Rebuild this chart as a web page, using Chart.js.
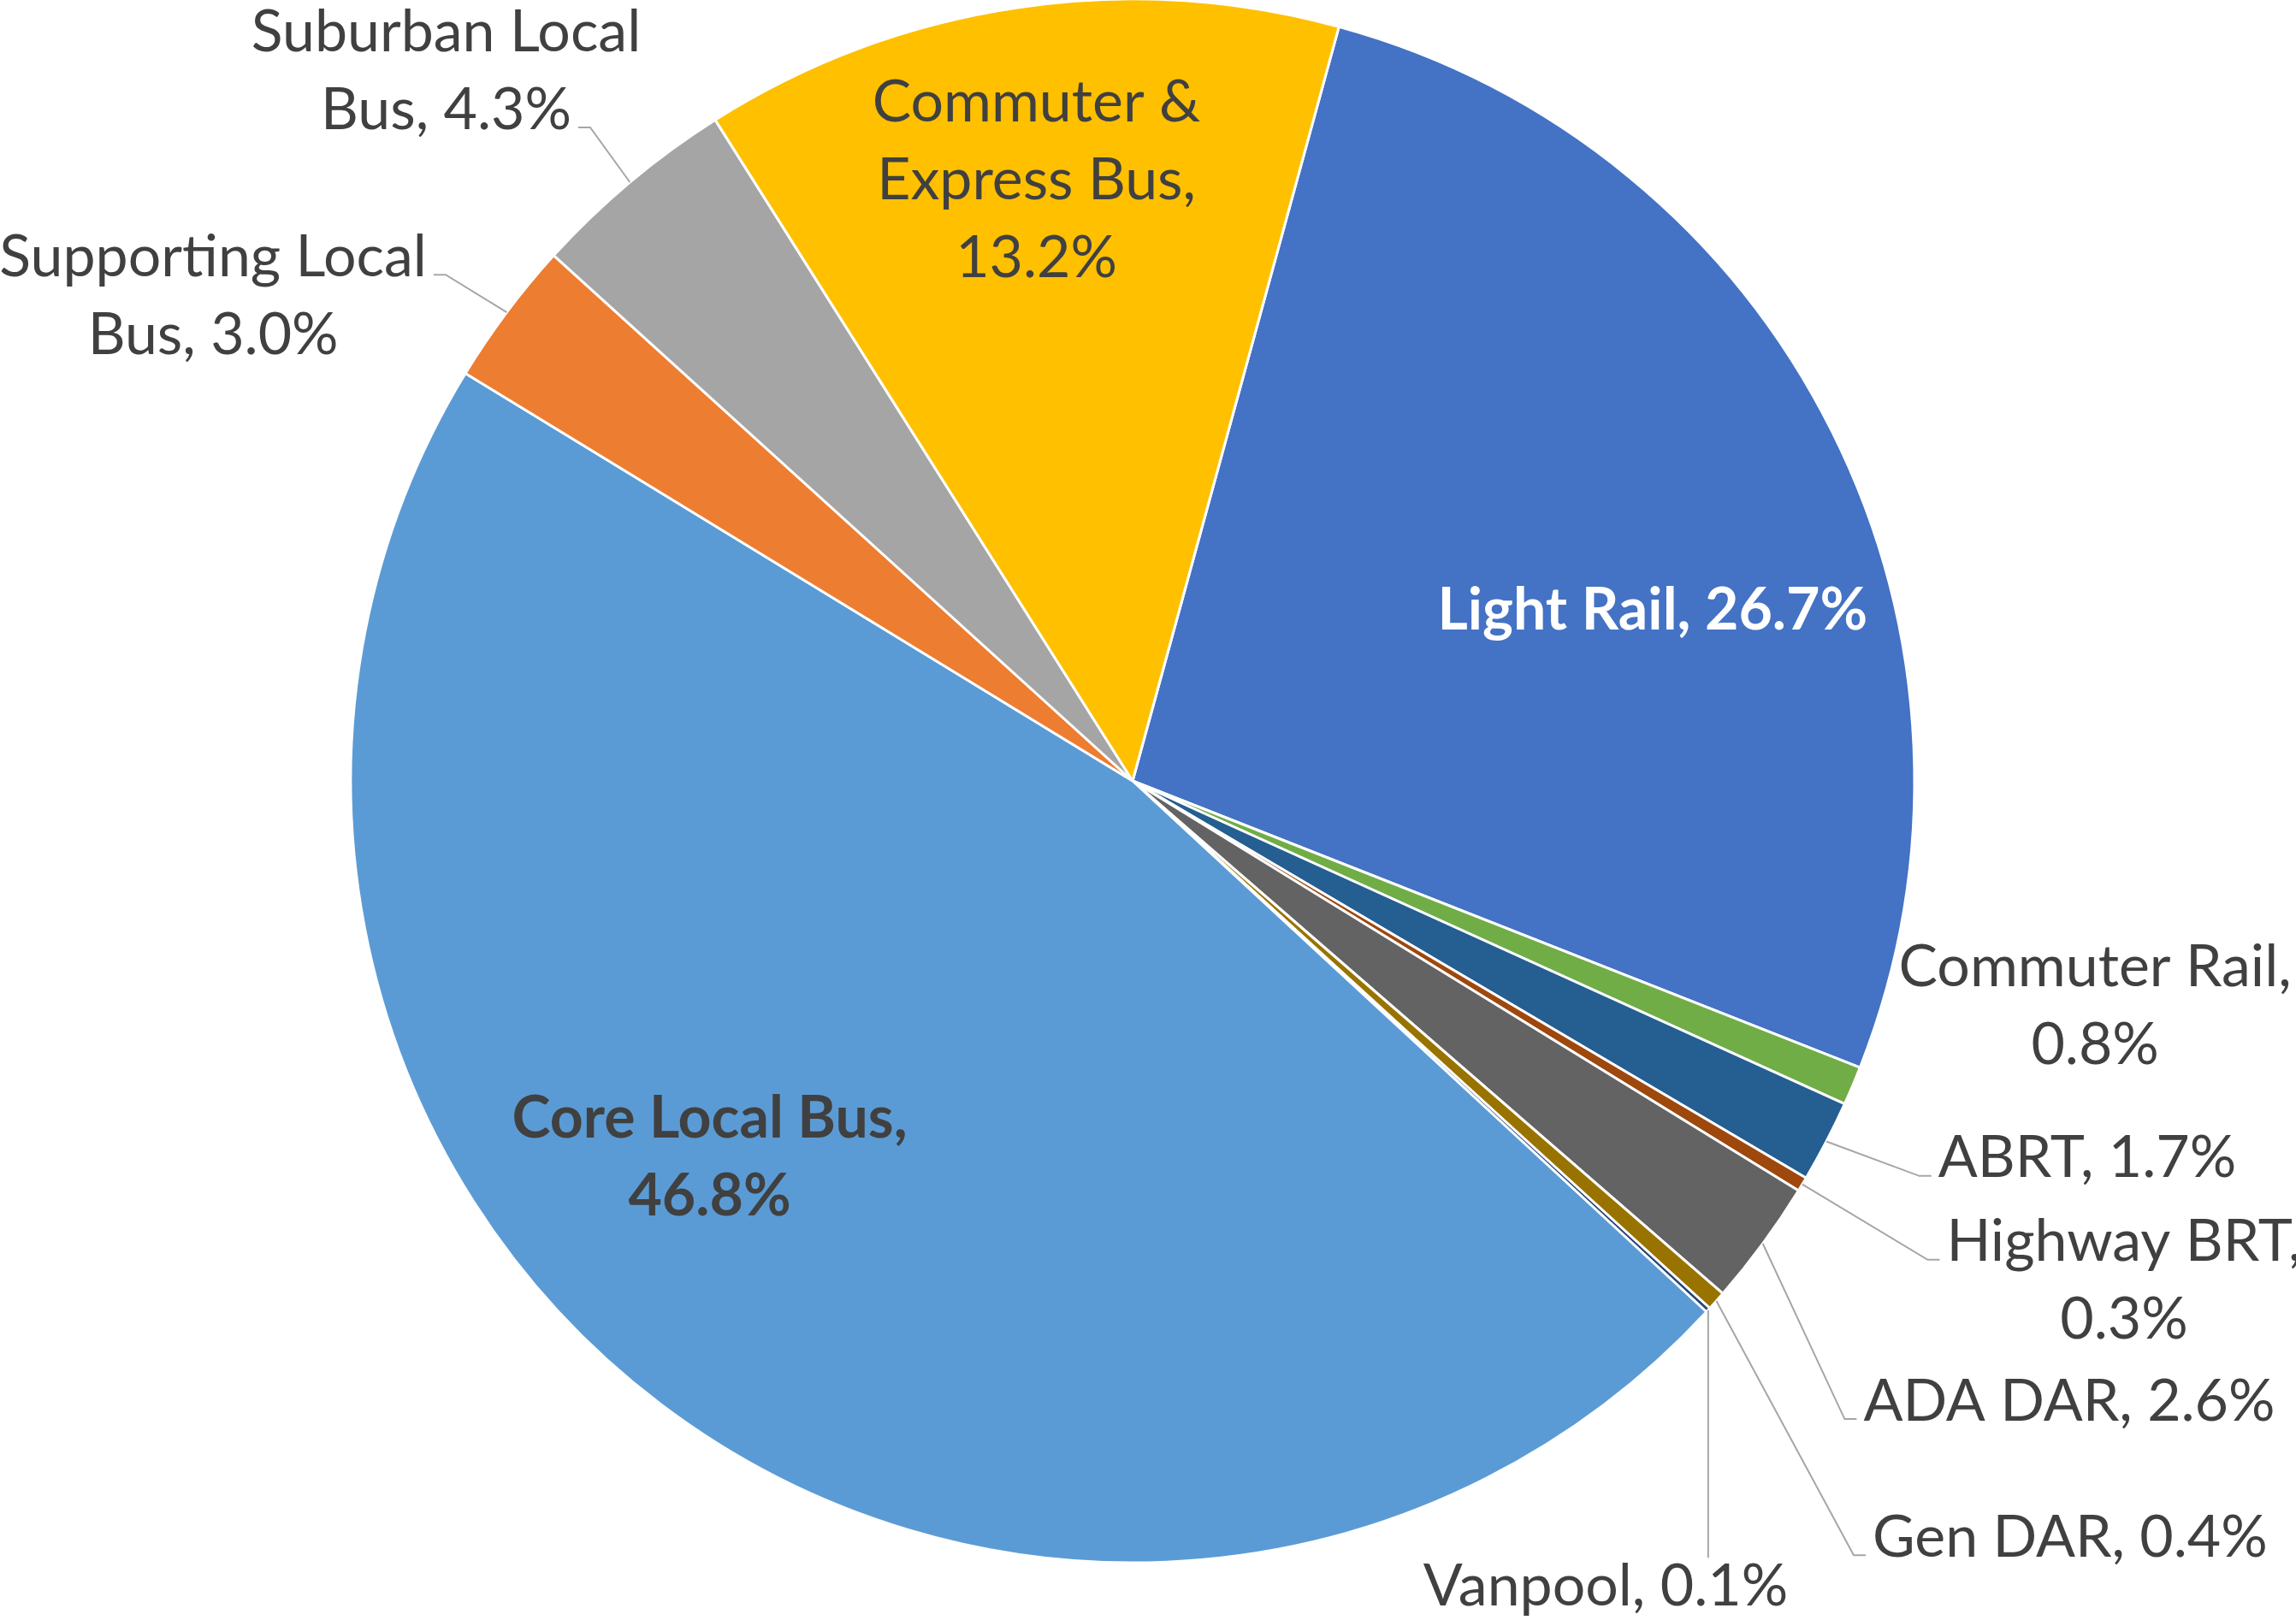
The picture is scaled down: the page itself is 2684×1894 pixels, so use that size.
<!DOCTYPE html>
<html>
<head>
<meta charset="utf-8">
<script src="https://cdn.jsdelivr.net/npm/chart.js@4"></script>
<style>
    body { margin: 0; background: #ffffff; }
    #wrap { width: 2684px; height: 1894px; }
</style>
</head>
<body>
<div id="wrap"><canvas id="pieChart" width="2684" height="1894"></canvas></div>
<script>
// --- Data (clockwise from the Light Rail slice) ---
const categories = ['Light Rail', 'Commuter Rail', 'ABRT', 'Highway BRT', 'ADA DAR', 'Gen DAR',
    'Vanpool', 'Core Local Bus', 'Supporting Local Bus', 'Suburban Local Bus', 'Commuter & Express Bus'];
const shares = [26.7, 0.8, 1.7, 0.3, 2.6, 0.4, 0.1, 46.8, 3.0, 4.3, 13.2];
const sliceColors = ['#4472C4', '#70AD47', '#255E91', '#9E480E', '#636363', '#997300',
    '#264478', '#5B9BD5', '#ED7D31', '#A5A5A5', '#FFC000'];

// --- Label layout: where each label sits (in pie radii from the centre) ---
const labelWrap = [null, [2], null, [2], null, null, null, [3], [2], [2], [2, 4]];
const labelPos = [[0.665, -0.218], [1.231, 0.288], [1.221, 0.483], [1.268, 0.640], [1.198, 0.794],
    [1.199, 0.968], [0.605, 1.031], [-0.541, 0.482], [-1.176, -0.620], [-0.878, -0.908], [-0.123, -0.768]];
const leaders = [null, null, { side: 'left', line: 0 }, { side: 'left', line: 0 }, { side: 'left', line: 0 },
    { side: 'left', line: 0 }, { side: 'top' }, null, { side: 'right', line: 0 }, { side: 'right', line: 1 }, null];

const FONT = 'Lato, "Open Sans", sans-serif';
const fontSize = 68;
const lineHeight = 91;
const textColor = '#404040';

function labelText(i) {
    const words = (categories[i] + ', ' + shares[i].toFixed(1) + '%').split(' ');
    const breaks = labelWrap[i] || [];
    const lines = [];
    let start = 0;
    breaks.concat([words.length]).forEach(b => {
        lines.push(words.slice(start, b).join(' '));
        start = b;
    });
    return lines;
}

function labelStyle(i) {
    if (i === 0) return { weight: 'bold', color: '#ffffff' };
    if (i === 7) return { weight: 'bold', color: textColor };
    return { weight: 'normal', color: textColor };
}

// --- Data labels + leader lines drawn from the arcs' own geometry ---
const pieLabels = {
    id: 'pieLabels',
    afterDatasetsDraw(chart) {
        const ctx = chart.ctx;
        const arcs = chart.getDatasetMeta(0).data;
        ctx.save();
        ctx.textAlign = 'center';
        ctx.textBaseline = 'middle';

        arcs.forEach((arc, i) => {
            const { x, y, startAngle, endAngle, outerRadius } = arc.getProps(['x', 'y', 'startAngle', 'endAngle', 'outerRadius'], true);
            const R = outerRadius;
            const cx = x + labelPos[i][0] * R;
            const cy = y + labelPos[i][1] * R;
            const lines = labelText(i);
            const st = labelStyle(i);
            ctx.font = `${st.weight} ${fontSize}px ${FONT}`;
            ctx.fillStyle = st.color;
            const lineYs = lines.map((_, k) => cy + (k - (lines.length - 1) / 2) * lineHeight);
            lines.forEach((t, k) => ctx.fillText(t, cx, lineYs[k]));

            const ld = leaders[i];
            if (!ld) return;
            const mid = (startAngle + endAngle) / 2;
            const px = x + Math.cos(mid) * R;
            const py = y + Math.sin(mid) * R;
            ctx.beginPath();
            ctx.strokeStyle = '#A6A6A6';
            ctx.lineWidth = 2;
            if (ld.side === 'top') {
                const top = lineYs[0] - fontSize * 0.5;
                ctx.moveTo(px, py);
                ctx.lineTo(px, top);
            } else {
                const w = ctx.measureText(lines[ld.line]).width;
                const ay = lineYs[ld.line] + fontSize * 0.3;
                const dir = ld.side === 'left' ? -1 : 1;
                const edge = cx + dir * w / 2;
                ctx.moveTo(px, py);
                ctx.lineTo(edge + dir * 22, ay);
                ctx.lineTo(edge + dir * 8, ay);
            }
            ctx.stroke();
        });
        ctx.restore();
    }
};

const ctx = document.getElementById('pieChart').getContext('2d');
new Chart(ctx, {
    type: 'pie',
    data: {
        labels: categories,
        datasets: [{
            data: shares,
            backgroundColor: sliceColors,
            borderColor: '#ffffff',
            borderWidth: 3
        }]
    },
    options: {
        responsive: false,
        animation: false,
        rotation: 15.3,
        radius: 914,
        layout: { padding: { left: 0, right: 36, top: 0, bottom: 68 } },
        plugins: {
            legend: { display: false },
            tooltip: { enabled: false }
        }
    },
    plugins: [pieLabels]
});
</script>
</body>
</html>
